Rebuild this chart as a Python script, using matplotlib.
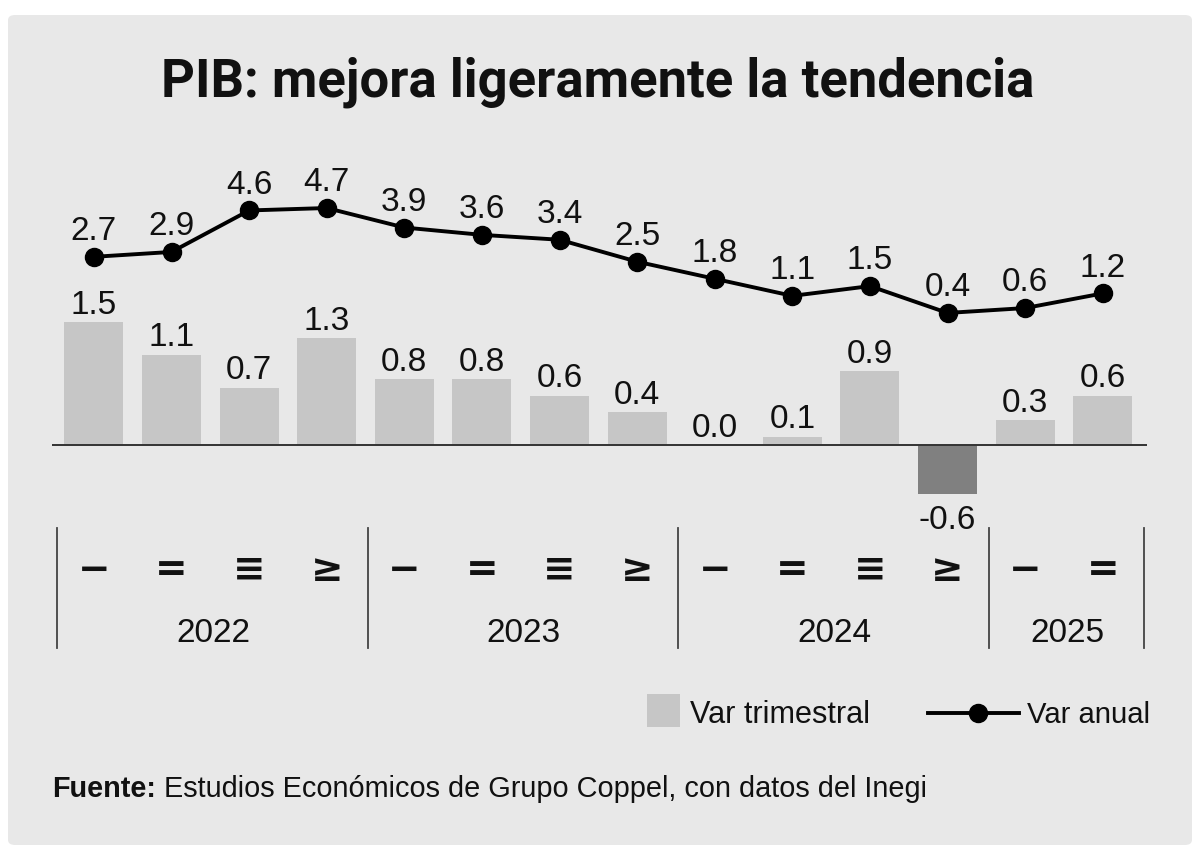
import matplotlib
matplotlib.use('Agg')
import matplotlib.pyplot as plt
from matplotlib.patches import FancyBboxPatch, Rectangle
from matplotlib.lines import Line2D
import matplotlib.transforms as mtransforms

# ---------------- data ----------------
quarters = ["−", "=", "≡", "≥", "−", "=", "≡", "≥", "−", "=", "≡", "≥", "−", "="]
years = ["2022", "2023", "2024", "2025"]
year_quarters = [4, 4, 4, 2]
var_trimestral = [1.5, 1.1, 0.7, 1.3, 0.8, 0.8, 0.6, 0.4, 0.0, 0.1, 0.9, -0.6, 0.3, 0.6]
var_anual = [2.7, 2.9, 4.6, 4.7, 3.9, 3.6, 3.4, 2.5, 1.8, 1.1, 1.5, 0.4, 0.6, 1.2]
title = "PIB: mejora ligeramente la tendencia"
source_bold = "Fuente:"
source_rest = " Estudios Económicos de Grupo Coppel, con datos del Inegi"
legend_bar = "Var trimestral"
legend_line = "Var anual"

# ---------------- styles ----------------
W, H = 1200, 851
BAR_POS = '#c6c6c6'
BAR_NEG = '#808080'
PANEL = '#e8e8e8'
TXT = '#111111'
NARROW = ['Liberation Sans Narrow', 'Liberation Sans', 'DejaVu Sans']
REG = ['Liberation Sans', 'DejaVu Sans']

fig = plt.figure(figsize=(12, 8.51), dpi=100)
fig.patch.set_facecolor('white')


def fx(px):
    return px / W


def fy(py):
    return 1 - py / H


panel = FancyBboxPatch((fx(8), fy(845)), fx(1192) - fx(8), fy(15) - fy(845),
                       boxstyle="round,pad=0,rounding_size=0.006",
                       transform=fig.transFigure, facecolor=PANEL,
                       edgecolor='none', zorder=-10)
fig.patches.append(panel)

# ---------------- axes ----------------
ax_top, ax_bot = 100, 660
ax = fig.add_axes([fx(52), fy(ax_bot), fx(1147) - fx(52), (ax_bot - ax_top) / H])
ax.set_facecolor('none')
n = len(var_trimestral)
x = list(range(n))
ax.set_xlim(-0.54, 13.57)
bar_zero, bar_scale = 445, 82.0
ax.set_ylim(-(ax_bot - bar_zero) / bar_scale, (bar_zero - ax_top) / bar_scale)
colors = [BAR_POS if v >= 0 else BAR_NEG for v in var_trimestral]
ax.bar(x, var_trimestral, width=0.76, color=colors, zorder=2)
ax.axhline(0, color='#333333', lw=1.4, zorder=3)
for s in ax.spines.values():
    s.set_visible(False)
ax.set_xticks([])
ax.set_yticks([])

for i, v in enumerate(var_trimestral):
    if v >= 0:
        ax.annotate(f"{v:.1f}", (i, v), xytext=(0, 6), textcoords='offset points',
                    ha='center', va='baseline', fontsize=24, family=NARROW,
                    color=TXT, zorder=5)
    else:
        ax.annotate(f"{v:.1f}", (i, v), xytext=(0, -8), textcoords='offset points',
                    ha='center', va='top', fontsize=24, family=NARROW,
                    color=TXT, zorder=5)

ax2 = ax.twinx()
line_zero, line_scale = 322.7, 24.4
ax2.set_ylim(-(ax_bot - line_zero) / line_scale, (line_zero - ax_top) / line_scale)
ax2.plot(x, var_anual, color='black', lw=2.8, marker='o', ms=13, zorder=4)
for s in ax2.spines.values():
    s.set_visible(False)
ax2.set_yticks([])
for i, v in enumerate(var_anual):
    ax2.annotate(f"{v:.1f}", (i, v), xytext=(0, 12), textcoords='offset points',
                 ha='center', va='baseline', fontsize=24, family=NARROW,
                 color=TXT, zorder=5)

# ---------------- category axis ----------------
blend = mtransforms.blended_transform_factory(ax.transData, fig.transFigure)
for i, q in enumerate(quarters):
    ax.text(i, fy(570), q, transform=blend, ha='center', va='center',
            fontsize=28, family=['DejaVu Sans'], fontweight='bold', color=TXT)

bounds = [-0.5]
for k in year_quarters:
    bounds.append(bounds[-1] + k)
for b in bounds:
    ax.plot([b + 0.03, b + 0.03], [fy(528), fy(648)], transform=blend,
            color='#444444', lw=1.3, clip_on=False)
for j, yname in enumerate(years):
    c = (bounds[j] + bounds[j + 1]) / 2 + 0.04
    ax.text(c, fy(642), yname, transform=blend, ha='center', va='baseline',
            fontsize=24, family=REG, color=TXT)

# ---------------- title / legend / source ----------------
renderer = fig.canvas.get_renderer()


def fit_width(t, target):
    bb = t.get_window_extent(renderer)
    t.set_fontsize(t.get_fontsize() * target / bb.width)
    return t.get_fontsize()


t_title = fig.text(fx(598), fy(97), title, ha='center', va='baseline',
                   fontsize=36, fontweight='bold', family=['Roboto', 'DejaVu Sans'],
                   color=TXT)
fit_width(t_title, 873)

fig.patches.append(Rectangle((fx(647), fy(727)), fx(680) - fx(647), fy(694) - fy(727),
                             transform=fig.transFigure, facecolor=BAR_POS,
                             edgecolor='none'))
t_lb = fig.text(fx(690), fy(723), legend_bar, ha='left', va='baseline',
                fontsize=22, family=REG, color=TXT)
fit_width(t_lb, 180)
fig.lines.append(Line2D([fx(928), fx(1019)], [fy(713), fy(713)],
                        transform=fig.transFigure, color='black', lw=2.8))
fig.lines.append(Line2D([fx(978)], [fy(713)], transform=fig.transFigure,
                        color='black', marker='o', ms=13))
t_ll = fig.text(fx(1027), fy(723), legend_line, ha='left', va='baseline',
                fontsize=22, family=REG, color=TXT)
fit_width(t_ll, 123)

t_sb = fig.text(fx(52), fy(797), source_bold, ha='left', va='baseline',
                fontsize=20, fontweight='bold', family=REG, color=TXT)
t_sr = fig.text(fx(52), fy(797), source_rest, ha='left', va='baseline',
                fontsize=20, family=REG, color=TXT)
wb = t_sb.get_window_extent(renderer).width
wr = t_sr.get_window_extent(renderer).width
scale = 873 / (wb + wr)
t_sb.set_fontsize(20 * scale)
t_sr.set_fontsize(20 * scale)
wb = t_sb.get_window_extent(renderer).width
t_sr.set_position((fx(52 + wb), fy(797)))

fig.savefig('out.png', dpi=100, facecolor='white')
